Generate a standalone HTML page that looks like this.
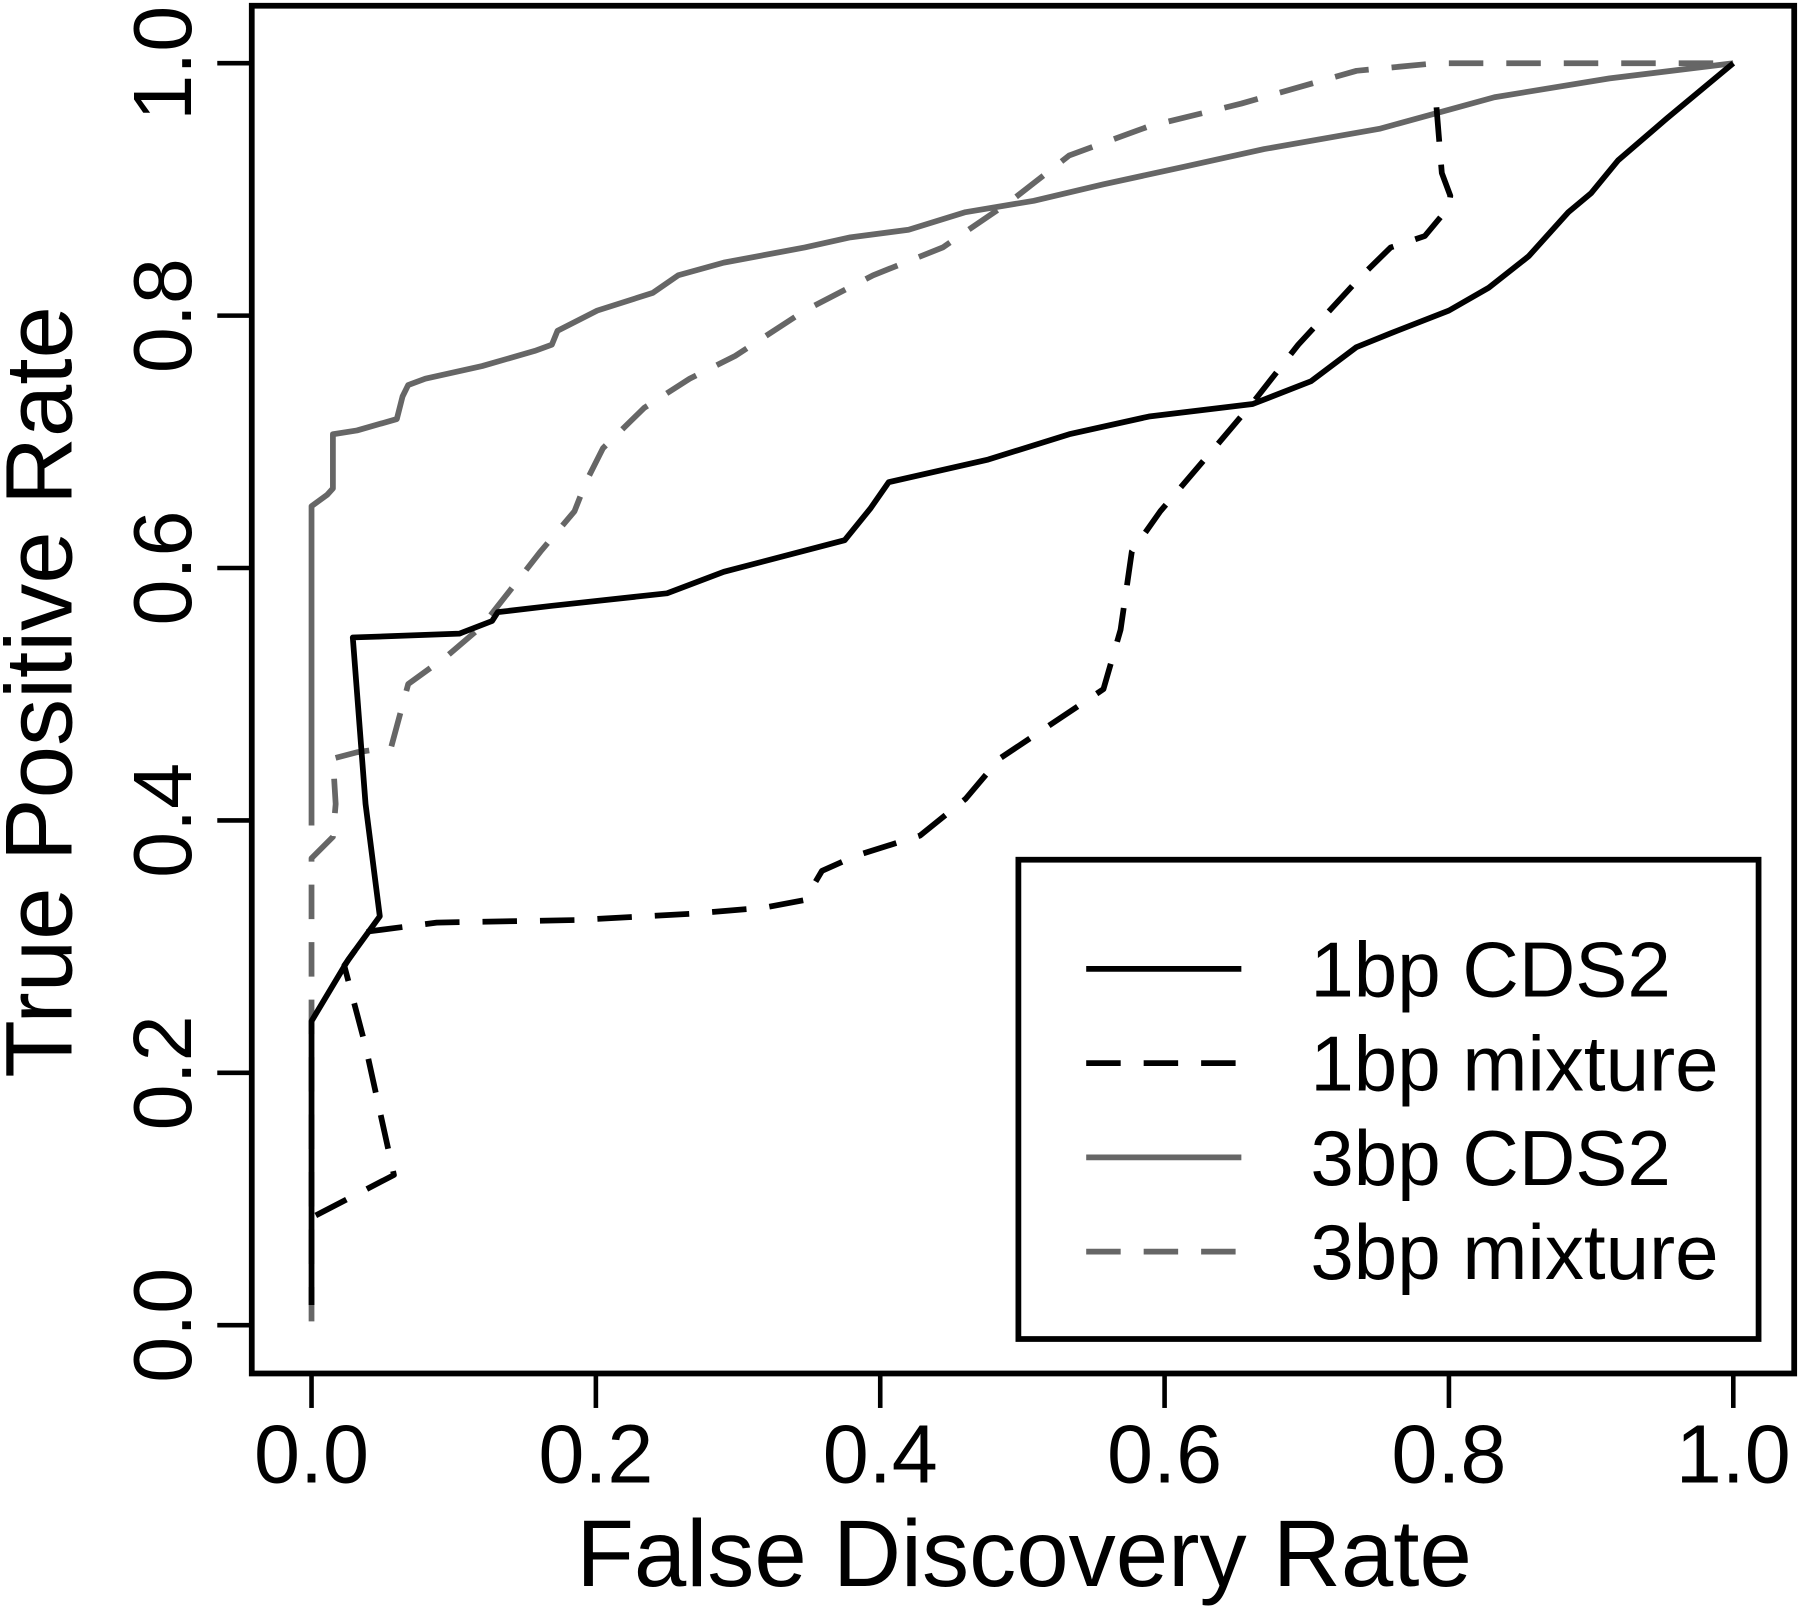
<!DOCTYPE html>
<html><head><meta charset="utf-8"><style>
html,body{margin:0;padding:0;background:#fff;}
svg{display:block;}
text{font-family:"Liberation Sans",Arial,sans-serif;fill:#000;}
</style></head><body>
<svg id="chart" width="1800" height="1616" viewBox="0 0 1566 1406" xmlns="http://www.w3.org/2000/svg">
<rect x="219" y="5" width="1342" height="1190" fill="none" stroke="#000" stroke-width="5"/>
<g id="xticks"></g>
<g id="yticks"></g>
<text x="891" y="1380" font-size="82" text-anchor="middle">False Discovery Rate</text>
<text transform="translate(62,602) rotate(-90)" font-size="82" text-anchor="middle">True Positive Rate</text>
<g id="series"></g>
<g>
<rect x="886" y="748" width="644" height="417" fill="#fff" stroke="#000" stroke-width="5"/>
<g id="legend"></g>
</g>
</svg>
<script>
const xTicks=[0,0.2,0.4,0.6,0.8,1.0];
const yTicks=[0,0.2,0.4,0.6,0.8,1.0];
const tickLabels=["0.0","0.2","0.4","0.6","0.8","1.0"];
const seriesNames=["1bp CDS2","1bp mixture","3bp CDS2","3bp mixture"];
const cds1X=[0,0,0.026,0.048,0.038,0.029,0.056,0.104,0.127,0.131,0.169,0.25,0.29,0.375,0.393,0.406,0.476,0.533,0.589,0.662,0.703,0.735,0.759,0.8,0.828,0.856,0.884,0.9,0.919,0.953,1];
const cds1Y=[0.016,0.241,0.29,0.324,0.413,0.545,0.546,0.548,0.558,0.565,0.57,0.58,0.597,0.622,0.647,0.668,0.686,0.706,0.72,0.73,0.748,0.775,0.786,0.804,0.822,0.847,0.882,0.897,0.923,0.956,1];
const mix1X=[0.003,0.058,0.038,0.023,0.04,0.088,0.185,0.266,0.319,0.347,0.359,0.383,0.428,0.46,0.484,0.508,0.557,0.569,0.577,0.597,0.638,0.662,0.694,0.739,0.759,0.783,0.8,0.801,0.795,0.791];
const mix1Y=[0.087,0.119,0.221,0.285,0.312,0.319,0.321,0.326,0.331,0.337,0.36,0.372,0.388,0.417,0.449,0.467,0.504,0.551,0.613,0.645,0.699,0.731,0.777,0.832,0.854,0.863,0.886,0.895,0.913,0.968];
const cds3X=[0,0,0.011,0.015,0.015,0.032,0.06,0.064,0.068,0.08,0.12,0.157,0.169,0.173,0.201,0.24,0.258,0.29,0.347,0.379,0.42,0.46,0.508,0.557,0.614,0.67,0.751,0.832,0.913,1];
const cds3Y=[0.396,0.649,0.658,0.663,0.706,0.709,0.718,0.736,0.745,0.75,0.76,0.772,0.777,0.788,0.804,0.818,0.832,0.842,0.854,0.862,0.868,0.882,0.891,0.904,0.918,0.932,0.948,0.973,0.988,1];
const mix3X=[0,0,0.015,0.017,0.015,0.032,0.056,0.068,0.096,0.12,0.145,0.161,0.185,0.193,0.205,0.234,0.266,0.298,0.347,0.395,0.444,0.492,0.533,0.589,0.654,0.735,0.791,1];
const mix3Y=[0.003,0.37,0.387,0.413,0.449,0.454,0.458,0.508,0.531,0.554,0.59,0.613,0.645,0.668,0.695,0.727,0.75,0.768,0.804,0.832,0.854,0.891,0.927,0.95,0.968,0.994,1,1];
const NS="http://www.w3.org/2000/svg";
const sx=v=>271+v*1237, sy=v=>1153-v*1098;
function mk(tag,attrs,parent){const e=document.createElementNS(NS,tag);for(const k in attrs)e.setAttribute(k,attrs[k]);parent.appendChild(e);return e;}
const xg=document.getElementById('xticks'), yg=document.getElementById('yticks');
mk('line',{x1:sx(0),x2:sx(1),y1:1195,y2:1195,stroke:'#000','stroke-width':4},xg);
xTicks.forEach((t,i)=>{
  const l=mk('line',{x1:sx(t),x2:sx(t),y1:1195,y2:1225,stroke:'#000','stroke-width':4},xg);
  
  
  const tx=mk('text',{x:sx(t),y:1290,'font-size':72,'text-anchor':'middle'},xg);
  tx.textContent=tickLabels[i];
  
  
});
mk('line',{x1:219,x2:219,y1:sy(0),y2:sy(1),stroke:'#000','stroke-width':4},yg);
yTicks.forEach((t,i)=>{
  const l=mk('line',{x1:189,x2:219,y1:sy(t),y2:sy(t),stroke:'#000','stroke-width':4},yg);
  
  
  const tx=mk('text',{transform:`translate(166,${sy(t)}) rotate(-90)`,'font-size':72,'text-anchor':'middle'},yg);
  tx.textContent=tickLabels[i];
  
  
});
const styles=[{c:'#000',d:''},{c:'#000',d:'30,20'},{c:'#666',d:''},{c:'#666',d:'30,20'}];
const data=[[cds1X,cds1Y],[mix1X,mix1Y],[cds3X,cds3Y],[mix3X,mix3Y]];
const sg=document.getElementById('series');
const order=[3,2,1,0];
order.forEach(i=>{
  const [X,Y]=data[i];
  const pts=X.map((x,j)=>sx(x).toFixed(1)+','+sy(Y[j]).toFixed(1)).join(' ');
  const p=mk('polyline',{points:pts,fill:'none',stroke:styles[i].c,'stroke-width':5,'stroke-dasharray':styles[i].d,'stroke-linejoin':'round'},sg);
  
  
});
const lg=document.getElementById('legend');
seriesNames.forEach((n,i)=>{
  const y=843+i*82;
  const l=mk('line',{x1:945,x2:1080,y1:y,y2:y,stroke:styles[i].c,'stroke-width':5,'stroke-dasharray':styles[i].d},lg);
  
  
  const t=mk('text',{x:1140,y:y+24,'font-size':68},lg);
  t.textContent=n;
  
  
});
</script>
</body></html>
